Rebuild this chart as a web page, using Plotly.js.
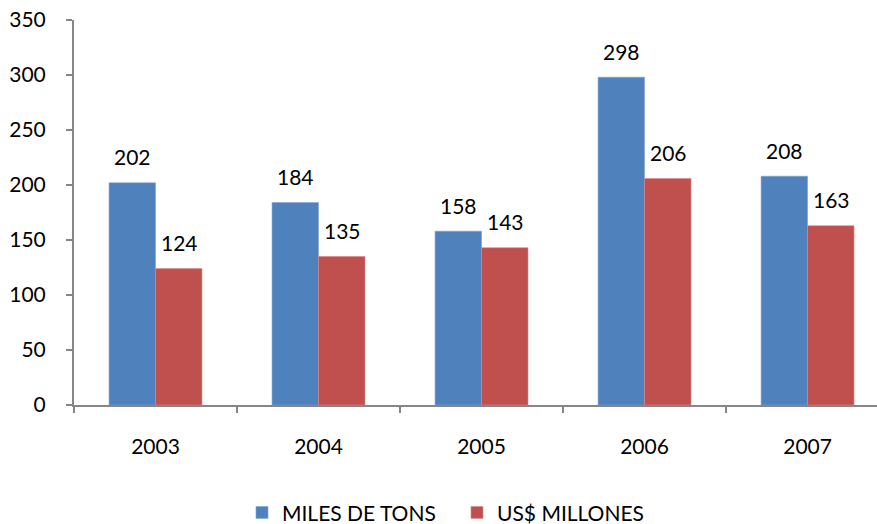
<!DOCTYPE html>
<html>
<head>
<meta charset="utf-8">
<script src="https://cdn.plot.ly/plotly-3.0.1.min.js"></script>
<style>html,body{margin:0;padding:0;background:#fff;}#chart{width:877px;height:524px;}</style>
</head>
<body>
<div id="chart"></div>
<script>
const years = ['2003', '2004', '2005', '2006', '2007'];
const milesDeTons = [202, 184, 158, 298, 208];
const usMillones = [124, 135, 143, 206, 163];
const seriesNames = ['MILES DE TONS', 'US$ MILLONES'];
const yTicks = [0, 50, 100, 150, 200, 250, 300, 350];

const FONT = 'Lato, "Open Sans", sans-serif';
const FS = 21;
const blue = '#4F81BD', red = '#C0504D';

const traces = [
  {type: 'bar', x: years, y: milesDeTons, name: seriesNames[0],
   marker: {color: blue, line: {color: '#7FA3D0', width: 0.6}}, hoverinfo: 'y'},
  {type: 'bar', x: years, y: usMillones, name: seriesNames[1],
   marker: {color: red, line: {color: '#D88A88', width: 0.6}}, hoverinfo: 'y'}
];

const annotations = [];
years.forEach((yr, i) => {
  annotations.push({x: i, y: milesDeTons[i], xref: 'x', yref: 'y', text: String(milesDeTons[i]),
    showarrow: false, xshift: -23.5, yshift: 26, font: {family: FONT, size: FS, color: '#000'}});
  annotations.push({x: i, y: usMillones[i], xref: 'x', yref: 'y', text: String(usMillones[i]),
    showarrow: false, xshift: 23.5, yshift: 26, font: {family: FONT, size: FS, color: '#000'}});
});

const layout = {
  width: 877, height: 524,
  margin: {l: 74, r: 0, t: 20, b: 119, pad: 0, autoexpand: false},
  paper_bgcolor: '#fff', plot_bgcolor: '#fff',
  font: {family: FONT, size: FS, color: '#000'},
  barmode: 'group', bargap: 0.43, bargroupgap: 0,
  showlegend: true,
  legend: {orientation: 'h', x: 0.2092, xanchor: 'left', y: -0.28, yanchor: 'middle',
    font: {family: FONT, size: FS, color: '#000'}, itemwidth: 30, entrywidth: 170,
    entrywidthmode: 'pixels', traceorder: 'normal'},
  xaxis: {type: 'category', range: [-0.5, 4.426], showline: true, linecolor: '#868686', linewidth: 2,
    ticks: 'outside', tickson: 'boundaries', ticklen: 6, tickwidth: 2, tickcolor: '#868686',
    ticklabelstandoff: 22, showgrid: false, zeroline: false, fixedrange: true},
  yaxis: {range: [0, 350], tickvals: yTicks, showline: true, linecolor: '#868686', linewidth: 2,
    ticks: 'outside', ticklen: 6, tickwidth: 2, tickcolor: '#868686', ticklabelstandoff: 16,
    showgrid: false, zeroline: false, fixedrange: true},
  annotations: annotations
};

Plotly.newPlot('chart', traces, layout, {displayModeBar: false, staticPlot: true});
</script>
</body>
</html>
